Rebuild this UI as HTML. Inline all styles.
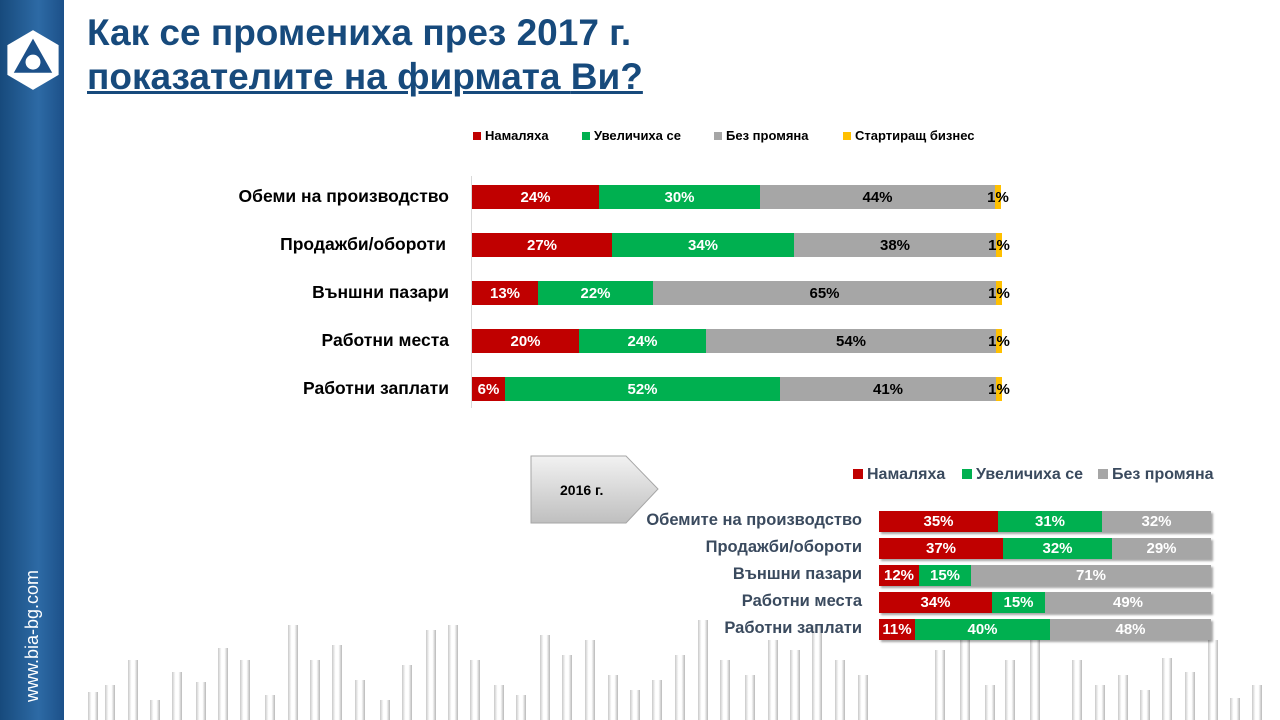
<!DOCTYPE html><html><head><meta charset="utf-8"><style>
body{margin:0;width:1280px;height:720px;position:relative;overflow:hidden;background:#fff;font-family:"Liberation Sans","DejaVu Sans",sans-serif}
.a{position:absolute}
.t{font-weight:bold;color:#174a7c;font-size:37px;left:87px;white-space:nowrap}
.lab{position:absolute;font-weight:bold;font-size:17.5px;color:#000;text-align:right;white-space:nowrap}
.bar{position:absolute;display:flex;height:24px}
.bar div{height:100%;display:flex;align-items:center;justify-content:center;font-weight:bold;font-size:15px;color:#fff;overflow:visible;white-space:nowrap}
.r{background:#c00000}.g{background:#00b050}.gr{background:#a6a6a6}.y{background:#ffc000}
.lg{position:absolute;font-size:13px;font-weight:bold;white-space:nowrap}
.sq{display:inline-block;width:8px;height:8px;margin-right:4px}
.lab2{position:absolute;font-weight:bold;font-size:16.5px;color:#3a4a5e;text-align:right;white-space:nowrap;width:300px}
.b2{position:absolute;display:flex;height:21px;box-shadow:2px 2px 2px rgba(0,0,0,.35)}
.b2 div{height:100%;display:flex;align-items:center;justify-content:center;font-weight:bold;font-size:15px;color:#fff;white-space:nowrap}
.bg{position:absolute;bottom:0;width:10px;background:linear-gradient(to right,#c8c8c8,#fff 35%,#fff 65%,#b8b8b8)}
</style></head><body>
<div class="a" style="left:0;top:0;width:64px;height:720px;background:linear-gradient(to right,#174a7c,#2d6aa5 60%,#1c5089)"></div>
<svg class="a" style="left:5px;top:28px" width="56" height="64" viewBox="0 0 52 60"><polygon points="26,2 50,16 50,44 26,58 2,44 2,16" fill="#fff"/><polygon points="26,10 44,42 8,42" fill="#1c5089"/><circle cx="26" cy="32" r="7" fill="#fff"/></svg>
<div class="a" style="left:22px;top:702px;transform:rotate(-90deg);transform-origin:0 0;color:#fff;font-size:18px;white-space:nowrap">www.bia-bg.com</div>
<div class="a t" style="top:12px">Как се промениха през 2017 г.</div>
<div class="a t" style="top:56px;text-decoration:underline;text-decoration-thickness:3px">показателите на фирмата <span style="text-decoration:none">Ви?</span></div>

<div class="bg" style="left:88px;height:28px"></div><div class="bg" style="left:105px;height:35px"></div><div class="bg" style="left:128px;height:60px"></div><div class="bg" style="left:150px;height:20px"></div><div class="bg" style="left:172px;height:48px"></div><div class="bg" style="left:196px;height:38px"></div><div class="bg" style="left:218px;height:72px"></div><div class="bg" style="left:240px;height:60px"></div><div class="bg" style="left:265px;height:25px"></div><div class="bg" style="left:288px;height:95px"></div><div class="bg" style="left:310px;height:60px"></div><div class="bg" style="left:332px;height:75px"></div><div class="bg" style="left:355px;height:40px"></div><div class="bg" style="left:380px;height:20px"></div><div class="bg" style="left:402px;height:55px"></div><div class="bg" style="left:426px;height:90px"></div><div class="bg" style="left:448px;height:95px"></div><div class="bg" style="left:470px;height:60px"></div><div class="bg" style="left:494px;height:35px"></div><div class="bg" style="left:516px;height:25px"></div><div class="bg" style="left:540px;height:85px"></div><div class="bg" style="left:562px;height:65px"></div><div class="bg" style="left:585px;height:80px"></div><div class="bg" style="left:608px;height:45px"></div><div class="bg" style="left:630px;height:30px"></div><div class="bg" style="left:652px;height:40px"></div><div class="bg" style="left:675px;height:65px"></div><div class="bg" style="left:698px;height:100px"></div><div class="bg" style="left:720px;height:60px"></div><div class="bg" style="left:745px;height:45px"></div><div class="bg" style="left:768px;height:80px"></div><div class="bg" style="left:790px;height:70px"></div><div class="bg" style="left:812px;height:95px"></div><div class="bg" style="left:835px;height:60px"></div><div class="bg" style="left:858px;height:45px"></div><div class="bg" style="left:935px;height:70px"></div><div class="bg" style="left:960px;height:80px"></div><div class="bg" style="left:985px;height:35px"></div><div class="bg" style="left:1005px;height:60px"></div><div class="bg" style="left:1030px;height:80px"></div><div class="bg" style="left:1072px;height:60px"></div><div class="bg" style="left:1095px;height:35px"></div><div class="bg" style="left:1118px;height:45px"></div><div class="bg" style="left:1140px;height:30px"></div><div class="bg" style="left:1162px;height:62px"></div><div class="bg" style="left:1185px;height:48px"></div><div class="bg" style="left:1208px;height:80px"></div><div class="bg" style="left:1230px;height:22px"></div><div class="bg" style="left:1252px;height:35px"></div>

<div class="lg" style="left:473px;top:128px"><span class="sq r"></span>Намаляха</div>
<div class="lg" style="left:582px;top:128px"><span class="sq g"></span>Увеличиха се</div>
<div class="lg" style="left:714px;top:128px"><span class="sq gr"></span>Без промяна</div>
<div class="lg" style="left:843px;top:128px"><span class="sq y"></span>Стартиращ бизнес</div>
<div class="a" style="left:471px;top:176px;width:1px;height:232px;background:#d9d9d9"></div>

<div class="lab" style="right:831px;top:186px">Обеми на производство</div>
<div class="bar" style="left:472px;top:185px"><div class="r" style="width:127px">24%</div><div class="g" style="width:161px">30%</div><div class="gr" style="width:235px;color:#000">44%</div><div class="y" style="width:6px;color:#000">1%</div></div>
<div class="lab" style="right:834px;top:234px">Продажби/обороти</div>
<div class="bar" style="left:472px;top:233px"><div class="r" style="width:140px">27%</div><div class="g" style="width:182px">34%</div><div class="gr" style="width:202px;color:#000">38%</div><div class="y" style="width:6px;color:#000">1%</div></div>
<div class="lab" style="right:831px;top:282px">Външни пазари</div>
<div class="bar" style="left:472px;top:281px"><div class="r" style="width:66px">13%</div><div class="g" style="width:115px">22%</div><div class="gr" style="width:343px;color:#000">65%</div><div class="y" style="width:6px;color:#000">1%</div></div>
<div class="lab" style="right:831px;top:330px">Работни места</div>
<div class="bar" style="left:472px;top:329px"><div class="r" style="width:107px">20%</div><div class="g" style="width:127px">24%</div><div class="gr" style="width:290px;color:#000">54%</div><div class="y" style="width:6px;color:#000">1%</div></div>
<div class="lab" style="right:831px;top:378px">Работни заплати</div>
<div class="bar" style="left:472px;top:377px"><div class="r" style="width:33px">6%</div><div class="g" style="width:275px">52%</div><div class="gr" style="width:216px;color:#000">41%</div><div class="y" style="width:6px;color:#000">1%</div></div>

<svg class="a" style="left:530px;top:455px" width="130" height="70"><defs><linearGradient id="p" x1="0" y1="0" x2="0" y2="1"><stop offset="0" stop-color="#f2f2f2"/><stop offset="1" stop-color="#bfbfbf"/></linearGradient></defs><polygon points="1,1 96,1 128,34 96,68 1,68" fill="url(#p)" stroke="#a6a6a6"/><text x="30" y="40" font-family="Liberation Sans" font-weight="bold" font-size="14">2016 г.</text></svg>

<div class="lg" style="left:853px;top:466px;font-size:16px;color:#3a4a5e"><span class="sq r" style="width:10px;height:10px"></span>Намаляха</div>
<div class="lg" style="left:962px;top:466px;font-size:16px;color:#3a4a5e"><span class="sq g" style="width:10px;height:10px"></span>Увеличиха се</div>
<div class="lg" style="left:1098px;top:466px;font-size:16px;color:#3a4a5e"><span class="sq gr" style="width:10px;height:10px"></span>Без промяна</div>

<div class="lab2" style="left:562px;top:511px">Обемите на производство</div>
<div class="b2" style="left:879px;top:511px"><div class="r" style="width:119px">35%</div><div class="g" style="width:104px">31%</div><div class="gr" style="width:109px">32%</div></div>
<div class="lab2" style="left:562px;top:538px">Продажби/обороти</div>
<div class="b2" style="left:879px;top:538px"><div class="r" style="width:124px">37%</div><div class="g" style="width:109px">32%</div><div class="gr" style="width:99px">29%</div></div>
<div class="lab2" style="left:562px;top:565px">Външни пазари</div>
<div class="b2" style="left:879px;top:565px"><div class="r" style="width:40px">12%</div><div class="g" style="width:52px">15%</div><div class="gr" style="width:240px">71%</div></div>
<div class="lab2" style="left:562px;top:592px">Работни места</div>
<div class="b2" style="left:879px;top:592px"><div class="r" style="width:113px">34%</div><div class="g" style="width:53px">15%</div><div class="gr" style="width:166px">49%</div></div>
<div class="lab2" style="left:562px;top:619px">Работни заплати</div>
<div class="b2" style="left:879px;top:619px"><div class="r" style="width:36px">11%</div><div class="g" style="width:135px">40%</div><div class="gr" style="width:161px">48%</div></div>
</body></html>
